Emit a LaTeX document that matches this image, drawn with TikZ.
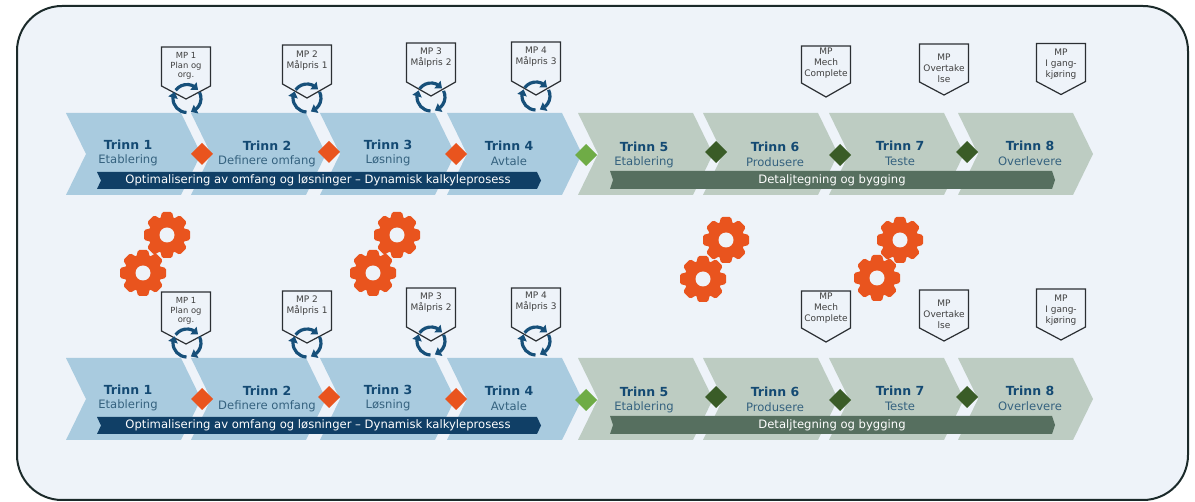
\documentclass[tikz,border=0pt]{standalone}
\usepackage{fontspec}
\setmainfont{DejaVu Sans}
\usetikzlibrary{arrows.meta,bending}

\definecolor{framefill}{HTML}{EEF3F9}
\definecolor{frameline}{HTML}{1B2A2A}
\definecolor{chevblue}{HTML}{A9CBDF}
\definecolor{chevgreen}{HTML}{BDCCC2}
\definecolor{barblue}{HTML}{103F66}
\definecolor{bargreen}{HTML}{566F5F}
\definecolor{gearorange}{HTML}{E9541E}
\definecolor{gatelight}{HTML}{6FAC46}
\definecolor{gatedark}{HTML}{3A5C27}
\definecolor{trinnblue}{HTML}{144A73}
\definecolor{subblue}{HTML}{35627F}
\definecolor{cycleblue}{HTML}{17507A}
\definecolor{mpline}{HTML}{2B2F33}

\tikzset{
  trinnlabel/.style={inner sep=0pt,font=\fontsize{12.5}{14}\selectfont\bfseries,text=trinnblue},
  sublabel/.style={inner sep=0pt,font=\fontsize{11.6}{13}\selectfont,text=subblue},
  barlabel/.style={inner sep=0pt,font=\fontsize{11.6}{13}\selectfont,text=white},
  mplabel/.style={anchor=north,inner sep=0pt,align=center,text=black!75,font=\fontsize{9}{11}\selectfont},
  mpsmall/.style={mplabel,font=\fontsize{8.4}{9.8}\selectfont},
  mpbox/.style={draw=mpline,line width=1.2pt,fill=framefill},
  cyclearrow/.style={draw=cycleblue,line width=3.2pt,-{Triangle[length=6pt,width=9.5pt,flex]}},
}

% pentagon: x centre, top, shoulder height, tip height
\newcommand{\mppentagon}[4]{
\draw[mpbox] (#1-24.5,#2) -- (#1+24.5,#2) -- (#1+24.5,#2+#3) -- (#1,#2+#4) -- (#1-24.5,#2+#3) -- cycle ;
}
% three arrows round a centre
\newcommand{\cyclearrows}[2]{
\foreach \a/\e in {216/322,334/434,92/208}{
  \draw[cyclearrow] (#1,#2) ++(\a:14) arc[start angle=\a,end angle=\e,radius=14] ;
}
}
% gear wheel with 8 teeth
\newcommand{\gearwheel}[2]{
\fill[gearorange] (#1,#2) circle (18.5) ;
\foreach \t in {0,45,...,315}{
  \fill[gearorange,rotate around={\t:(#1,#2)},rounded corners=1.5pt] (#1-7,#2-15) -- (#1-5,#2-23) -- (#1+5,#2-23) -- (#1+7,#2-15) -- cycle ;
}
\fill[framefill] (#1,#2) circle (7.5) ;
}
% one row of steps, upper row coordinates
\newcommand{\processrow}{
%Shape: Chevrons
\foreach \x in {66,191,320,447}{
  \fill[chevblue] (\x,113) -- (\x+115,113) -- (\x+135,154) -- (\x+115,195) -- (\x,195) -- (\x+20,154) -- cycle ;
}
\foreach \x in {578,703,829,958}{
  \fill[chevgreen] (\x,113) -- (\x+115,113) -- (\x+135,154) -- (\x+115,195) -- (\x,195) -- (\x+20,154) -- cycle ;
}
%Shape: Bars
\fill[barblue] (97,172) -- (537,172) -- (541,180.5) -- (537,189) -- (97,189) -- (101,180.5) -- cycle ;
\fill[bargreen] (610,171) -- (1052,171) -- (1055,180) -- (1052,189) -- (610,189) -- (613,180) -- cycle ;
%Shape: Diamonds
\foreach \x/\y in {202/154,329/152,456/154}{
  \fill[gearorange] (\x-11,\y) -- (\x,\y-11) -- (\x+11,\y) -- (\x,\y+11) -- cycle ;
}
\fill[gatelight] (575,155) -- (586,144) -- (597,155) -- (586,166) -- cycle ;
\foreach \x/\y in {716/152,840/155,967/152}{
  \fill[gatedark] (\x-11,\y) -- (\x,\y-11) -- (\x+11,\y) -- (\x,\y+11) -- cycle ;
}
% Text Node
\foreach \n/\x/\y/\s in {1/128/145/Etablering,2/267/146/Definere omfang,3/388/145/Løsning,4/509/146/Avtale,5/644/147/Etablering,6/775/147/Produsere,7/900/146/Teste,8/1030/146/Overlevere}{
  \node[trinnlabel] (trinn\n) at (\x,\y) {Trinn \n};
  \node[sublabel] (sub\n) at (\x,\y+15) {\s};
}
% Text Node
\node[barlabel] (barblue) at (318,180.5) {Optimalisering av omfang og løsninger – Dynamisk kalkyleprosess};
\node[barlabel] (bargreen) at (832,180) {Detaljtegning og bygging};
}

\begin{document}
\begin{tikzpicture}[x=1pt,y=1pt,yscale=-1,xscale=1]
\useasboundingbox (0,0) rectangle (1195,502);

%Shape: Frame
\draw[draw=frameline,fill=framefill,line width=2pt,rounded corners=45pt] (17,6) rectangle (1188,500) ;

\begin{scope}[name prefix=upper-]
\processrow
\end{scope}
\begin{scope}[shift={(0,245)},name prefix=lower-]
\processrow
\end{scope}

%Shape: Gears
\foreach \x/\y in {167/235,143/273,397/235,373/273,726/240,703/279,900/240,877/278}{
  \gearwheel{\x}{\y}
}

%Shape: Pentagons upper
\mppentagon{186}{47}{39}{52}
\mppentagon{307}{45}{39}{53}
\mppentagon{431}{43}{39}{53}
\mppentagon{536}{42}{39}{53}
\mppentagon{826}{46}{37}{51}
\mppentagon{944}{44}{38}{51}
\mppentagon{1061}{43.5}{38}{51}
%Shape: Pentagons lower
\mppentagon{186}{292}{39}{52}
\mppentagon{307}{291}{39}{52}
\mppentagon{431}{288}{39}{53}
\mppentagon{536}{288}{39}{53}
\mppentagon{826}{291}{37}{51}
\mppentagon{944}{290}{38}{51}
\mppentagon{1061}{289}{38}{51}

%Shape: Cycle arrows
\foreach \x/\y in {187/98.5,307/98,431/97,536/96,187/343,307/343,431/341,536/341}{
  \cyclearrows{\x}{\y}
}

% Text Node
\node[mpsmall] (mpa) at (186,52) {MP 1\\Plan og\\org.};
\node[mplabel] (mpb) at (307,51) {MP 2\\Målpris 1};
\node[mplabel] (mpc) at (431,48) {MP 3\\Målpris 2};
\node[mplabel] (mpd) at (536,47) {MP 4\\Målpris 3};
\node[mplabel] (mpe) at (826,48) {MP\\Mech\\Complete};
\node[mplabel] (mpf) at (944,54) {MP\\Overtake\\lse};
\node[mplabel] (mpg) at (1061,49) {MP\\I gang-\\kjøring};
\node[mpsmall] (mph) at (186,297) {MP 1\\Plan og\\org.};
\node[mplabel] (mpi) at (307,296) {MP 2\\Målpris 1};
\node[mplabel] (mpj) at (431,293) {MP 3\\Målpris 2};
\node[mplabel] (mpk) at (536,292) {MP 4\\Målpris 3};
\node[mplabel] (mpl) at (826,293) {MP\\Mech\\Complete};
\node[mplabel] (mpm) at (944,300) {MP\\Overtake\\lse};
\node[mplabel] (mpn) at (1061,295) {MP\\I gang-\\kjøring};

\end{tikzpicture}
\end{document}
